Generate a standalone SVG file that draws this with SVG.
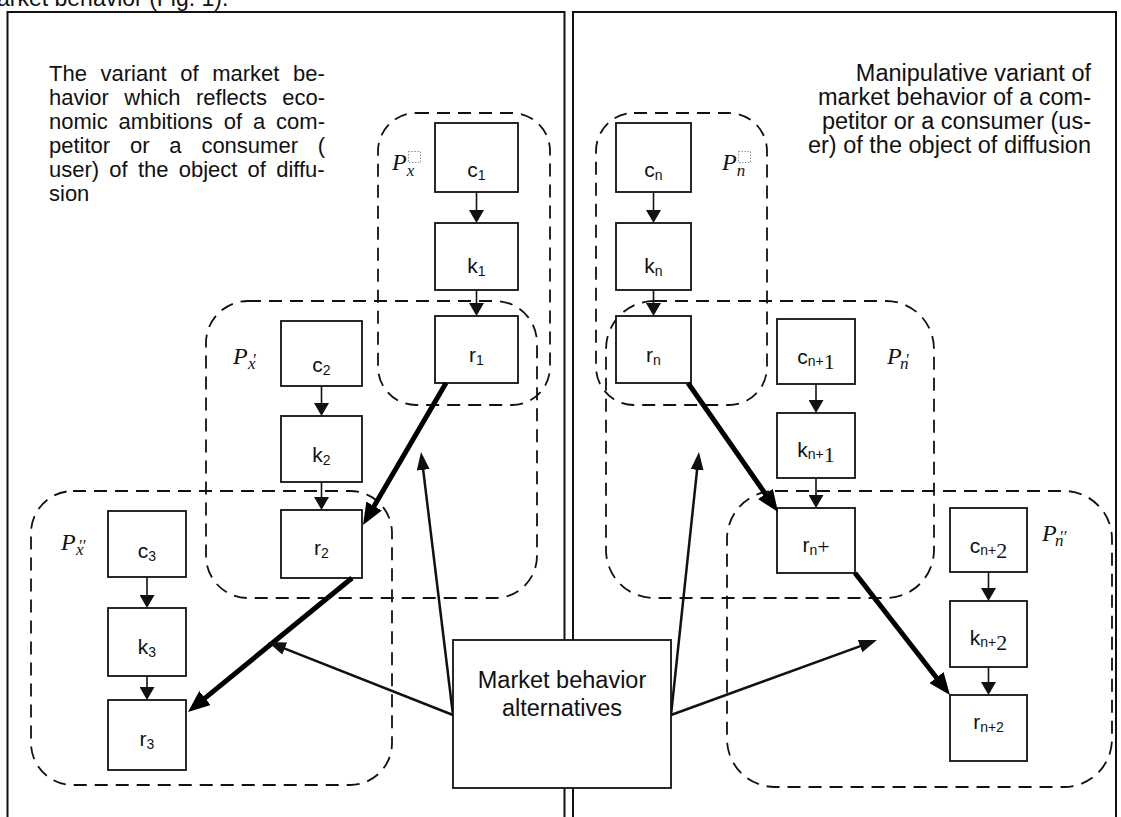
<svg xmlns="http://www.w3.org/2000/svg" width="1121" height="817" viewBox="0 0 1121 817">
<style>
.panel{fill:none;stroke:#111;stroke-width:2}
.grp{fill:none;stroke:#111;stroke-width:1.8;stroke-dasharray:13 8}
.box{fill:#fff;stroke:#111;stroke-width:1.8}
.t{font-family:"Liberation Sans",Arial,sans-serif;fill:#111}
.bl{font-family:"Liberation Sans",Arial,sans-serif;font-size:21px;fill:#111;text-anchor:middle}
.sub{font-size:14px}
.ser{font-family:"Liberation Serif","Times New Roman",serif;font-size:22px}
.pl{font-family:"Liberation Serif","Times New Roman",serif;font-style:italic;fill:#111;font-size:24px}
.ps{font-size:17px}
.thin{stroke:#111;stroke-width:1.6;fill:none}
.thick{stroke:#000;stroke-width:5;fill:none}
.med{stroke:#111;stroke-width:2.5;fill:none}
.dot{fill:none;stroke:#777;stroke-width:0.8;stroke-dasharray:1.5 1.5}
</style>
<defs>
<marker id="ahS" markerUnits="userSpaceOnUse" markerWidth="13" markerHeight="15" viewBox="0 0 13 15" refX="4" refY="7.5" orient="auto"><path d="M0,0 L13,7.5 L0,15 z" fill="#111"/></marker>
<marker id="ahT" markerUnits="userSpaceOnUse" markerWidth="22" markerHeight="18" viewBox="0 0 22 18" refX="4" refY="9" orient="auto"><path d="M0,0 L22,9 L0,18 z" fill="#000"/></marker>
<marker id="ahM" markerUnits="userSpaceOnUse" markerWidth="18" markerHeight="13" viewBox="0 0 18 13" refX="4" refY="6.5" orient="auto"><path d="M0,0 L18,6.5 L0,13 z" fill="#111"/></marker>
</defs>
<rect width="1121" height="817" fill="#fff"/>
<text class="t" x="-3" y="6" font-size="23">arket behavior (Fig. 1).</text>
<rect class="panel" x="7.5" y="12" width="557" height="830"/>
<rect class="panel" x="573" y="12" width="543" height="830"/>

<g id="text-left" class="t" font-size="22">
<text x="49" y="81" word-spacing="7.5">The variant of market be-</text>
<text x="49" y="105" word-spacing="9.3">havior which reflects eco-</text>
<text x="49" y="129" word-spacing="4.8">nomic ambitions of a com-</text>
<text x="49" y="153" word-spacing="13.7">petitor or a consumer (</text>
<text x="49" y="177" word-spacing="4.1">user) of the object of diffu-</text>
<text x="49" y="201">sion</text>
</g>
<g id="text-right" class="t" font-size="23.5" text-anchor="end">
<text x="1091" y="81">Manipulative variant of</text>
<text x="1091" y="105">market behavior of a com-</text>
<text x="1091" y="129">petitor or a consumer (us-</text>
<text x="1091" y="153">er) of the object of diffusion</text>
</g>

<g id="group-Px">
<rect class="grp" x="378" y="113" width="172" height="292" rx="38"/>
<text class="pl" x="392" y="170">P<tspan class="ps" dy="6">x</tspan></text>
<rect class="dot" x="408.5" y="151.5" width="12" height="11"/>
</g>
<g id="group-Px1">
<rect class="grp" x="206" y="301" width="331" height="297" rx="42"/>
<text class="pl" x="233" y="364">P<tspan class="ps" x="248" dy="5">x</tspan><tspan class="ps" x="252" dy="-4">′</tspan></text>
</g>
<g id="group-Px2">
<rect class="grp" x="31" y="491" width="361" height="294" rx="42"/>
<text class="pl" x="61" y="550">P<tspan class="ps" x="76" dy="5">x</tspan><tspan class="ps" x="78" dy="-4">′′</tspan></text>
</g>
<g id="group-Pn">
<rect class="grp" x="596" y="113" width="171" height="292" rx="38"/>
<text class="pl" x="722" y="170">P<tspan class="ps" dy="6">n</tspan></text>
<rect class="dot" x="738.5" y="151.5" width="12" height="11"/>
</g>
<g id="group-Pn1">
<rect class="grp" x="606" y="301" width="328" height="297" rx="48"/>
<text class="pl" x="887" y="364">P<tspan class="ps" x="900" dy="5">n</tspan><tspan class="ps" x="905" dy="-4">′</tspan></text>
</g>
<g id="group-Pn2">
<rect class="grp" x="727" y="491" width="385" height="296" rx="48"/>
<text class="pl" x="1042" y="541">P<tspan class="ps" x="1055" dy="5">n</tspan><tspan class="ps" x="1059" dy="-4">′′</tspan></text>
</g>

<g id="c1"><rect class="box" x="435" y="123" width="83" height="69"/><text class="bl" x="476.5" y="177">c<tspan class="sub" dy="3">1</tspan></text></g>
<g id="k1"><rect class="box" x="435" y="223" width="83" height="67"/><text class="bl" x="476.5" y="273">k<tspan class="sub" dy="3">1</tspan></text></g>
<g id="r1"><rect class="box" x="435" y="316" width="83" height="67"/><text class="bl" x="476.5" y="362">r<tspan class="sub" dy="3">1</tspan></text></g>
<g id="c2"><rect class="box" x="281" y="321" width="81" height="65"/><text class="bl" x="321.5" y="372">c<tspan class="sub" dy="3">2</tspan></text></g>
<g id="k2"><rect class="box" x="281" y="416" width="81" height="66"/><text class="bl" x="321.5" y="462">k<tspan class="sub" dy="3">2</tspan></text></g>
<g id="r2"><rect class="box" x="281" y="510" width="81" height="68"/><text class="bl" x="321.5" y="555">r<tspan class="sub" dy="3">2</tspan></text></g>
<g id="c3"><rect class="box" x="108" y="511" width="78" height="66"/><text class="bl" x="147" y="558">c<tspan class="sub" dy="3">3</tspan></text></g>
<g id="k3"><rect class="box" x="108" y="608" width="78" height="68"/><text class="bl" x="147" y="654">k<tspan class="sub" dy="3">3</tspan></text></g>
<g id="r3"><rect class="box" x="108" y="700" width="78" height="70"/><text class="bl" x="147" y="746">r<tspan class="sub" dy="3">3</tspan></text></g>

<g id="cn"><rect class="box" x="616" y="123" width="75" height="69"/><text class="bl" x="653.5" y="177">c<tspan class="sub" dy="3">n</tspan></text></g>
<g id="kn"><rect class="box" x="616" y="223" width="75" height="67"/><text class="bl" x="653.5" y="273">k<tspan class="sub" dy="3">n</tspan></text></g>
<g id="rn"><rect class="box" x="616" y="316" width="75" height="67"/><text class="bl" x="653.5" y="362">r<tspan class="sub" dy="3">n</tspan></text></g>
<g id="cn1"><rect class="box" x="777" y="319" width="78" height="65"/><text class="bl" x="816" y="364">c<tspan class="sub" dy="2">n+</tspan><tspan class="ser" dy="3">1</tspan></text></g>
<g id="kn1"><rect class="box" x="777" y="413" width="78" height="65"/><text class="bl" x="816" y="457">k<tspan class="sub" dy="2">n+</tspan><tspan class="ser" dy="3">1</tspan></text></g>
<g id="rnp"><rect class="box" x="777" y="508" width="78" height="65"/><text class="bl" x="816" y="552">r<tspan class="sub" dy="3">n</tspan><tspan class="ser" font-size="19" dy="-1">+</tspan></text></g>
<g id="cn2"><rect class="box" x="950" y="508" width="77" height="64"/><text class="bl" x="988.5" y="553">c<tspan class="sub" dy="2">n+</tspan><tspan class="ser" dy="3">2</tspan></text></g>
<g id="kn2"><rect class="box" x="950" y="601" width="77" height="66"/><text class="bl" x="988.5" y="645">k<tspan class="sub" dy="2">n+</tspan><tspan class="ser" dy="3">2</tspan></text></g>
<g id="rn2"><rect class="box" x="950" y="695" width="77" height="66"/><text class="bl" x="988.5" y="729">r<tspan class="sub" dy="3">n+2</tspan></text></g>

<g id="connectors">
<line class="thin" x1="476.5" y1="192" x2="476.5" y2="214" marker-end="url(#ahS)"/>
<line class="thin" x1="476.5" y1="290" x2="476.5" y2="307" marker-end="url(#ahS)"/>
<line class="thin" x1="321.5" y1="386" x2="321.5" y2="407" marker-end="url(#ahS)"/>
<line class="thin" x1="321.5" y1="482" x2="321.5" y2="501" marker-end="url(#ahS)"/>
<line class="thin" x1="147" y1="577" x2="147" y2="599" marker-end="url(#ahS)"/>
<line class="thin" x1="147" y1="676" x2="147" y2="691" marker-end="url(#ahS)"/>
<line class="thin" x1="653.5" y1="192" x2="653.5" y2="214" marker-end="url(#ahS)"/>
<line class="thin" x1="653.5" y1="290" x2="653.5" y2="307" marker-end="url(#ahS)"/>
<line class="thin" x1="816" y1="384" x2="816" y2="404" marker-end="url(#ahS)"/>
<line class="thin" x1="816" y1="478" x2="816" y2="499" marker-end="url(#ahS)"/>
<line class="thin" x1="988.5" y1="572" x2="988.5" y2="592" marker-end="url(#ahS)"/>
<line class="thin" x1="988.5" y1="667" x2="988.5" y2="686" marker-end="url(#ahS)"/>
<line class="thick" x1="446" y1="383" x2="372.1" y2="509.5" marker-end="url(#ahT)"/>
<line class="thick" x1="352" y1="578" x2="201.9" y2="700.6" marker-end="url(#ahT)"/>
<line class="thick" x1="688" y1="383" x2="767.7" y2="497.2" marker-end="url(#ahT)"/>
<line class="thick" x1="855" y1="573" x2="938.9" y2="680.8" marker-end="url(#ahT)"/>
<line class="med" x1="453" y1="715" x2="281" y2="647.1" marker-end="url(#ahM)"/>
<line class="med" x1="453" y1="715" x2="422.7" y2="465.9" marker-end="url(#ahM)"/>
<line class="med" x1="671" y1="715" x2="697.5" y2="465.9" marker-end="url(#ahM)"/>
<line class="med" x1="671" y1="715" x2="863.8" y2="644.8" marker-end="url(#ahM)"/>
</g>

<g id="alternatives">
<rect class="box" x="453" y="640" width="218" height="148"/>
<text class="t" x="562" y="688" font-size="23.5" text-anchor="middle">Market behavior</text>
<text class="t" x="562" y="716" font-size="23.5" text-anchor="middle">alternatives</text>
</g>
</svg>
